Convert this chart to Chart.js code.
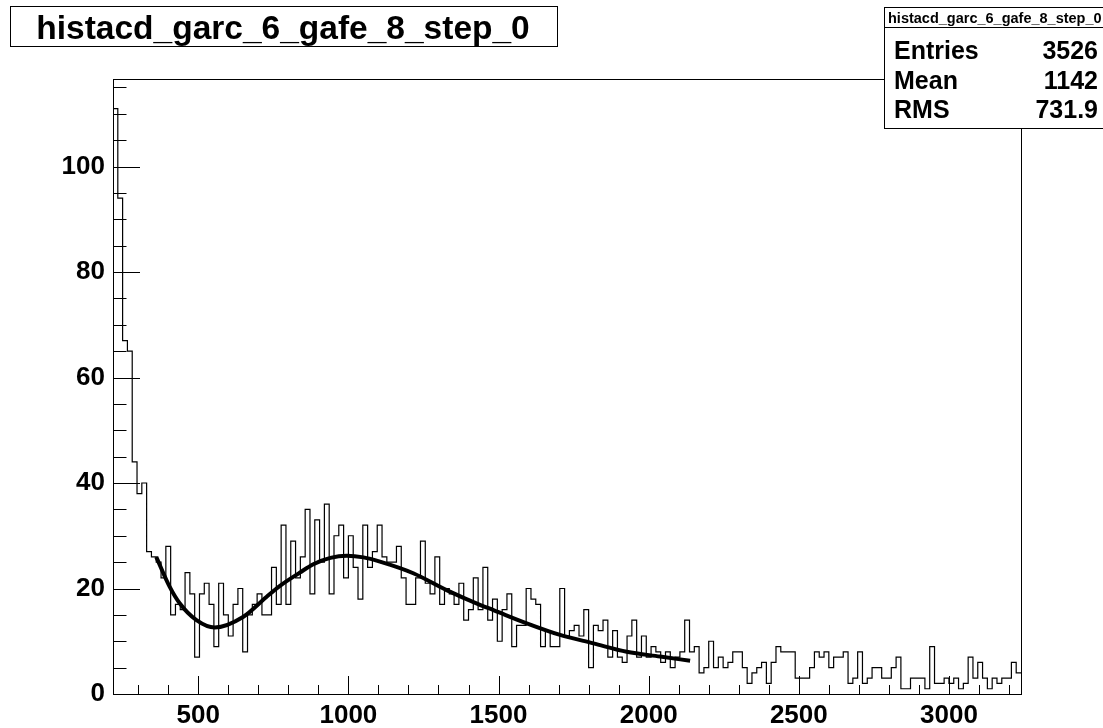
<!DOCTYPE html>
<html>
<head>
<meta charset="utf-8">
<script src="https://cdn.jsdelivr.net/npm/chart.js@4.4.1/dist/chart.umd.min.js"></script>
<style>
  html, body { margin: 0; padding: 0; background: #fff; }
</style>
</head>
<body>
<canvas id="c" width="1103" height="728"></canvas>
<script>
// ================= DATA =================
const histName = "histacd_garc_6_gafe_8_step_0";
const xMin = 216, xMax = 3240, binWidth = 16;
const yMax = 116.6;

// counts per bin (16 units wide)
const binCounts = [
  111, 94, 67, 65, 44, 38, 40, 27, 26, 25,
  22, 28, 15, 17, 16, 23, 19, 7, 19, 21,
  17, 9, 21, 15, 11, 17, 20, 8, 15, 17,
  19, 15, 15, 24, 17, 32, 17, 29, 22, 26,
  35, 19, 33, 25, 36, 19, 30, 32, 22, 30,
  24, 18, 32, 24, 27, 32, 26, 25, 25, 28,
  22, 17, 17, 22, 29, 21, 19, 26, 17, 20,
  19, 17, 21, 14, 16, 22, 16, 24, 14, 18,
  10, 16, 19, 9, 13, 13, 20, 18, 17, 9,
  12, 9, 9, 20, 11, 12, 13, 11, 16, 5,
  13, 12, 14, 7, 12, 7, 6, 11, 14, 7,
  11, 7, 9, 8, 6, 8, 5, 7, 8, 14,
  8, 9, 4, 5, 10, 5, 7, 5, 6, 8,
  8, 5, 2, 4, 5, 6, 2, 6, 9, 8,
  8, 8, 3, 3, 3, 5, 8, 7, 8, 5,
  7, 7, 8, 2, 3, 8, 2, 3, 5, 5,
  3, 3, 5, 7, 1, 1, 3, 3, 3, 1,
  9, 2, 2, 3, 2, 3, 1, 2, 7, 3,
  6, 3, 1, 3, 2, 3, 3, 6, 4
];

// fitted curve, points
const fitX = [360, 405, 438, 494, 555, 649, 727, 772, 838, 883, 940, 995, 1050, 1105, 1216, 1327, 1438, 1483, 1594, 1705, 1816, 1927, 2038, 2138];
const fitY = [26, 20.3, 17.2, 14, 12.6, 14.6, 18.4, 20.5, 23.0, 24.6, 25.8, 26.2, 25.9, 25.1, 22.9, 19.7, 16.9, 15.9, 13.4, 11.2, 9.6, 8.0, 7.1, 6.3];

const xTickLabels = [500, 1000, 1500, 2000, 2500, 3000];
const yTickLabels = [0, 20, 40, 60, 80, 100];
const statNames = ["Entries", "Mean", "RMS"];
const statValues = ["3526", "1142", "731.9"];

// ================= BUILD POINTS =================
const histPoints = binCounts.map((v, i) => ({ x: xMin + i * binWidth, y: v }));
histPoints.push({ x: xMax, y: binCounts[binCounts.length - 1] });
const fitPoints = fitX.map((x, i) => ({ x: x, y: fitY[i] }));

const FONT = "'Liberation Sans', Arial, Helvetica, sans-serif";

// ================= ROOT-STYLE FRAME, TICKS, BOXES =================
const rootDecor = {
  id: "rootDecor",
  afterDatasetsDraw(chart) {
    const { ctx, chartArea: a, scales: { x, y } } = chart;
    ctx.save();
    ctx.strokeStyle = "#000";
    ctx.lineWidth = 1;

    // ticks pointing into the frame
    ctx.beginPath();
    for (let v = 300; v <= 3200; v += 100) {
      const px = Math.round(x.getPixelForValue(v)) + 0.5;
      const len = v % 500 === 0 ? 18 : 9;
      ctx.moveTo(px, a.bottom); ctx.lineTo(px, a.bottom - len);
    }
    for (let v = 0; v <= 115; v += 5) {
      const py = Math.round(y.getPixelForValue(v)) + 0.5;
      const len = v % 20 === 0 ? 27 : 13.5;
      ctx.moveTo(a.left, py); ctx.lineTo(a.left + len, py);
    }
    ctx.stroke();

    // frame
    ctx.strokeRect(Math.round(a.left) + 0.5, Math.round(a.top) + 0.5,
                   Math.round(a.right - a.left), Math.round(a.bottom - a.top));

    // title box
    ctx.fillStyle = "#fff";
    ctx.fillRect(10, 6, 547, 40);
    ctx.strokeRect(10.5, 6.5, 547, 40);
    ctx.fillStyle = "#000";
    ctx.font = "bold 33.5px " + FONT;
    ctx.textAlign = "center";
    ctx.textBaseline = "alphabetic";
    ctx.fillText(histName, 283, 39);

    // stats box
    ctx.fillStyle = "#fff";
    ctx.fillRect(884, 7, 230, 122);
    ctx.strokeRect(884.5, 7.5, 230, 121);
    ctx.beginPath();
    ctx.moveTo(884, 27.5); ctx.lineTo(1103, 27.5);
    ctx.stroke();
    ctx.fillStyle = "#000";
    ctx.textAlign = "left";
    ctx.font = "bold 14.5px " + FONT;
    ctx.fillText(histName, 888, 23);
    ctx.font = "bold 25px " + FONT;
    statNames.forEach((n, i) => {
      const by = 59 + i * 29.5;
      ctx.textAlign = "left";
      ctx.fillText(n, 894, by);
      ctx.textAlign = "right";
      ctx.fillText(statValues[i], 1098, by);
    });
    ctx.restore();
  }
};

// ================= CHART =================
new Chart(document.getElementById("c"), {
  type: "line",
  data: {
    datasets: [
      {
        label: "fit",
        data: fitPoints,
        borderColor: "#000",
        borderWidth: 4,
        pointRadius: 0,
        cubicInterpolationMode: "monotone",
        fill: false
      },
      {
        label: histName,
        data: histPoints,
        borderColor: "#000",
        borderWidth: 1.2,
        pointRadius: 0,
        stepped: true,
        fill: false
      }
    ]
  },
  options: {
    responsive: false,
    animation: false,
    devicePixelRatio: 1,
    layout: { padding: { top: 79, right: 82, left: 0, bottom: 0 } },
    plugins: { legend: { display: false }, tooltip: { enabled: false }, title: { display: false } },
    scales: {
      x: {
        type: "linear",
        min: xMin, max: xMax,
        grid: { display: false, drawTicks: false },
        border: { display: false },
        afterBuildTicks: s => { s.ticks = xTickLabels.map(v => ({ value: v })); },
        afterFit: s => { s.height = 34; },
        ticks: {
          color: "#000",
          padding: 6,
          maxRotation: 0,
          autoSkip: false,
          callback: v => String(v),
          font: { family: FONT, weight: "bold", size: 26 }
        }
      },
      y: {
        type: "linear",
        min: 0, max: yMax,
        grid: { display: false, drawTicks: false },
        border: { display: false },
        afterBuildTicks: s => { s.ticks = yTickLabels.map(v => ({ value: v })); },
        afterFit: s => { s.width = 113; },
        ticks: {
          color: "#000",
          padding: 8,
          callback: v => String(v),
          font: { family: FONT, weight: "bold", size: 26 }
        }
      }
    }
  },
  plugins: [rootDecor]
});
</script>
</body>
</html>
